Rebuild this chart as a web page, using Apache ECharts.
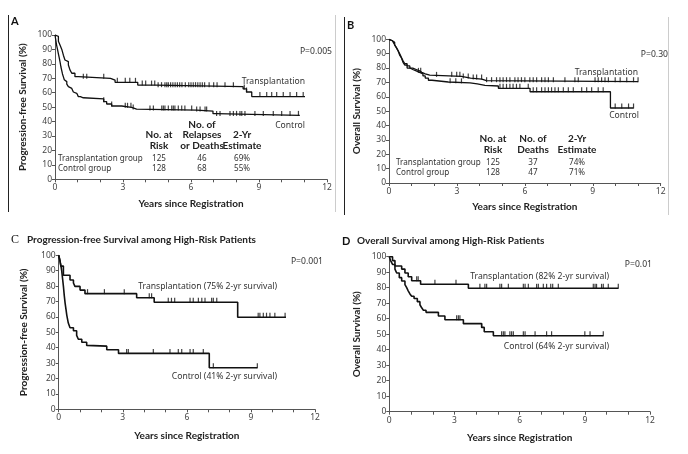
<!DOCTYPE html>
<html><head><meta charset="utf-8">
<script src="https://cdn.jsdelivr.net/npm/echarts@6/dist/echarts.min.js"></script>
<style>html,body{margin:0;padding:0;background:#fff}#c{width:688px;height:454px}</style>
</head><body><div id="c"></div>
<script>
// ---------- DATA ----------
const yearTicks = [0, 3, 6, 9, 12];
// Panel A: progression-free survival (all patients)
const pfsTransplant = [[0,100],[0.08,99],[0.15,95.6],[0.22,93],[0.3,90],[0.37,86],[0.44,82.7],[0.52,81.5],[0.59,79.2],[0.66,75.8],[0.74,73.5],[0.88,71.1],[1.03,70],[2.45,68.8],[2.65,67.2],[3.65,65.3],[4.45,64.2],[8.3,62.6],[8.45,60.5],[8.68,57.3],[11.03,57.3]];
const pfsControl = [[0,100],[0.04,96],[0.07,93],[0.11,90],[0.15,87],[0.19,84],[0.22,81.5],[0.26,78],[0.29,75.8],[0.33,73],[0.37,71],[0.41,69],[0.44,67.7],[0.52,66],[0.59,64.2],[0.67,63],[0.74,62],[0.81,60.5],[0.88,59.6],[0.96,58.5],[1.03,57.3],[1.12,56.5],[1.25,55.7],[2.15,53.8],[2.28,52.2],[2.5,50.8],[2.94,49.9],[3.38,48.7],[3.6,48.0],[6.25,47.3],[6.97,45.5],[7.1,44.3],[10.8,44.3]];
const pfsTransplantCens = [1.25,1.4,2.15,2.75,3.1,3.3,3.55,3.85,4.0,4.26,4.4,4.55,4.7,4.85,4.93,5.0,5.1,5.2,5.3,5.4,5.5,5.6,5.75,5.9,6.0,6.1,6.2,6.3,6.4,6.5,6.6,6.8,7.0,7.15,7.5,7.87,8.35,8.45,9.04,9.34,9.56,9.78,10.07,10.37,10.66,10.95];
const pfsControlCens = [2.15,2.5,3.1,3.2,3.35,3.45,4.19,4.34,4.71,4.78,4.85,5.0,5.15,5.22,5.29,5.44,5.59,5.73,6.03,6.25,6.4,6.62,6.69,7.13,7.28,7.72,7.87,8.01,8.16,8.24,8.38,8.82,9.19,9.63,10.0,10.37,10.74];
// Panel B: overall survival (all patients)
const osTransplant = [[0,100],[0.08,99],[0.15,98],[0.22,97],[0.3,95],[0.37,93],[0.44,91],[0.5,89],[0.56,87],[0.62,85],[0.7,83],[0.8,81.5],[0.92,80],[1.05,79],[1.2,78],[1.35,77],[1.45,76],[1.6,75],[1.8,74.2],[3.2,73],[3.6,72.3],[4.1,71.3],[4.3,70.5],[11.0,70.5]];
const osControl = [[0,100],[0.08,99],[0.15,98],[0.25,96],[0.33,94],[0.4,92],[0.47,89],[0.55,87],[0.62,84],[0.7,82],[0.8,80],[0.92,79],[1.05,78],[1.2,77],[1.35,76],[1.5,74.5],[1.6,73],[1.74,71.5],[1.9,70.3],[2.62,69.7],[3.58,69],[3.9,68],[4.24,67.5],[4.83,65.9],[6.23,63.5],[9.78,52.2],[10.8,52.2]];
const osTransplantCens = [1.4,2.1,2.77,2.99,3.13,3.28,3.5,3.72,3.87,4.09,4.31,4.53,4.75,4.9,5.04,5.19,5.34,5.56,5.7,5.85,6.0,6.22,6.37,6.52,6.74,6.89,7.04,7.26,7.77,8.21,8.36,9.1,9.24,9.39,9.54,9.69,9.99,10.21,10.5,10.8,11.0];
const osControlCens = [1.3,2.7,2.95,3.2,4.9,5.04,5.19,5.34,5.48,5.63,5.78,6.15,6.37,6.52,6.74,6.89,7.04,7.18,7.33,7.48,7.7,7.92,8.14,8.51,8.73,8.95,9.24,9.46,9.99,10.28,10.58,10.8];
// Panel C: PFS among high-risk patients
const hrPfsTransplant = [[0,100],[0.06,96.5],[0.1,93],[0.22,87],[0.53,84],[0.69,82],[0.76,79.8],[1.0,77.4],[1.23,75.1],[3.65,72.4],[4.47,69.5],[8.38,59.8],[10.64,59.8]];
const hrPfsControl = [[0,100],[0.05,97],[0.1,93.5],[0.14,90],[0.18,85],[0.22,80],[0.26,74],[0.3,69],[0.34,65],[0.38,61],[0.45,56],[0.53,53],[0.69,51],[0.84,48],[0.92,45.5],[1.08,43.5],[1.31,41.5],[1.39,41],[2.25,38.7],[2.8,36.3],[7.05,27],[9.3,27]];
const hrPfsTransplantCens = [1.35,2.14,3.07,4.24,4.35,5.13,5.28,5.43,6.15,6.3,6.54,6.7,6.85,7.16,7.24,7.4,9.34,9.42,9.58,9.73,9.89,10.12,10.6];
const hrPfsControlCens = [3.18,3.26,4.43,5.21,5.6,5.76,6.15,6.3,6.77,7.24,9.3];
// Panel D: OS among high-risk patients
const hrOsTransplant = [[0,100],[0.15,97.5],[0.26,94],[0.57,92],[0.72,89.5],[0.87,87.1],[1.03,84.5],[1.44,82.2],[3.64,79.6],[10.54,79.6]];
const hrOsControl = [[0,100],[0.06,97.5],[0.15,95],[0.26,92],[0.34,89.5],[0.46,86.5],[0.57,84.3],[0.72,82],[0.8,80],[0.87,78],[0.95,76],[1.03,74.5],[1.14,73],[1.29,71],[1.41,69],[1.49,67],[1.57,65.5],[1.69,64.1],[2.26,61.7],[2.56,59.3],[3.41,56.8],[4.25,54.4],[4.37,51.6],[4.79,49],[9.85,49]];
const hrOsTransplantCens = [1.26,1.33,2.1,3.07,4.17,4.4,4.48,5.09,5.17,5.48,6.17,6.25,6.4,6.78,6.86,7.09,7.24,7.43,7.52,7.78,9.39,9.47,9.54,9.77,9.85,10.08,10.54];
const hrOsControlCens = [3.1,3.18,3.25,4.25,5.17,5.25,5.32,5.55,5.63,5.71,6.17,6.25,6.71,7.24,7.47,9.0,9.24,9.85];
// Tables
const tableGroups = ['Transplantation group', 'Control group'];
const atRisk = [125, 128];
const pfsEvents = [46, 68];
const pfsEstimate = ['69%', '55%'];
const osEvents = [37, 47];
const osEstimate = ['74%', '71%'];
const pValues = ['P=0.005', 'P=0.30', 'P=0.001', 'P=0.01'];

// ---------- CHART ----------
const FONT = 'Lato';
const BODY = 'Noto Sans';
const BODY_SIZE = 8.6;
const TABLE_SIZE = 8.1;
const chart = echarts.init(document.getElementById('c'), null, {renderer: 'canvas'});

function survAt(curve, t) {
  let s = curve[0][1];
  for (const p of curve) { if (p[0] <= t) s = p[1]; else break; }
  return s;
}
const grids = [
  {left: 55, top: 35, width: 272, height: 144.3},
  {left: 389, top: 39.3, width: 271.7, height: 143.7},
  {left: 58.7, top: 255.3, width: 256.3, height: 154},
  {left: 389.3, top: 256.7, width: 260.7, height: 155}
];
const yNames = ['Progression-free Survival (%)', 'Overall Survival (%)', 'Progression-free Survival (%)', 'Overall Survival (%)'];
const xNameGaps = [19, 19, 21, 21];
const axisCol = '#555';
const xAxes = grids.map((g, i) => ({
  gridIndex: i, type: 'value', min: 0, max: 12, interval: 1,
  name: 'Years since Registration', nameLocation: 'middle', nameGap: xNameGaps[i],
  nameTextStyle: {fontFamily: FONT, fontWeight: 'bold', fontSize: 10, color: '#222'},
  axisLine: {lineStyle: {color: axisCol, width: 1}},
  axisTick: {length: 3, lineStyle: {color: axisCol}},
  axisLabel: {margin: 4, fontFamily: BODY, fontSize: 8.5, color: '#444',
    formatter: v => yearTicks.indexOf(v) >= 0 ? String(v) : ''},
  splitLine: {show: false}
}));
const yAxes = grids.map((g, i) => ({
  gridIndex: i, type: 'value', min: 0, max: 100, interval: 10,
  name: yNames[i], nameLocation: 'middle', nameGap: [27, 27, 30, 28][i], nameRotate: 90,
  nameTextStyle: {fontFamily: FONT, fontWeight: 'bold', fontSize: 10, color: '#222'},
  axisLine: {show: true, lineStyle: {color: axisCol, width: 1}},
  axisTick: {show: true, length: 3, lineStyle: {color: axisCol}},
  axisLabel: {margin: 3, fontFamily: BODY, fontSize: 8.5, color: '#444'},
  splitLine: {show: false}
}));
const curves = [
  [pfsTransplant, pfsControl, pfsTransplantCens, pfsControlCens],
  [osTransplant, osControl, osTransplantCens, osControlCens],
  [hrPfsTransplant, hrPfsControl, hrPfsTransplantCens, hrPfsControlCens],
  [hrOsTransplant, hrOsControl, hrOsTransplantCens, hrOsControlCens]
];
const series = [];
curves.forEach((c, i) => {
  [c[0], c[1]].forEach((curve, k) => {
    series.push({type: 'line', xAxisIndex: i, yAxisIndex: i, step: 'end', data: curve,
      symbol: 'none', silent: true, animation: false,
      lineStyle: {color: '#111', width: i >= 2 ? 1.6 : 1.3}});
    const cens = c[2 + k].map(t => [t, survAt(curve, t)]);
    series.push({type: 'scatter', xAxisIndex: i, yAxisIndex: i, data: cens,
      symbol: 'rect', symbolSize: [1.2, 5], symbolOffset: [0, -2], silent: true, animation: false,
      itemStyle: {color: '#111'}});
  });
});

function txt(x, y, s, opt) {
  return {type: 'text', x: x, y: y, silent: true,
    style: Object.assign({text: s, fontFamily: BODY, fontSize: BODY_SIZE, fill: '#333',
      textAlign: 'left', textVerticalAlign: 'middle'}, opt || {})};
}
const hdr = {fontFamily: FONT, fontWeight: 'bold', fill: '#222', textAlign: 'center', fontSize: 10};
const graphic = [
  // panel frames
  {type: 'line', shape: {x1: 8.5, y1: 15, x2: 8.5, y2: 212}, style: {stroke: '#222', lineWidth: 1}, silent: true},
  {type: 'line', shape: {x1: 335.5, y1: 15, x2: 335.5, y2: 212}, style: {stroke: '#ccc', lineWidth: 1}, silent: true},
  {type: 'line', shape: {x1: 344.5, y1: 17, x2: 344.5, y2: 215}, style: {stroke: '#222', lineWidth: 1}, silent: true},
  {type: 'line', shape: {x1: 668.5, y1: 17, x2: 668.5, y2: 215}, style: {stroke: '#ccc', lineWidth: 1}, silent: true},
  // panel letters
  txt(11, 21, 'A', {fontFamily: FONT, fontWeight: 'bold', fontSize: 11, fill: '#111'}),
  txt(347, 25, 'B', {fontFamily: FONT, fontWeight: 'bold', fontSize: 11, fill: '#111'}),
  txt(11, 240, 'C', {fontFamily: 'Liberation Serif', fontSize: 12, fill: '#111'}),
  txt(342, 241, 'D', {fontFamily: FONT, fontWeight: 'bold', fontSize: 11, fill: '#111'}),
  txt(27, 240, 'Progression-free Survival among High-Risk Patients', {fontFamily: FONT, fontWeight: 'bold', fontSize: 10, fill: '#222'}),
  txt(357, 241, 'Overall Survival among High-Risk Patients', {fontFamily: FONT, fontWeight: 'bold', fontSize: 10, fill: '#222'}),
  // p-values
  txt(332, 52, pValues[0], {textAlign: 'right'}),
  txt(668, 55, pValues[1], {textAlign: 'right'}),
  txt(323, 262, pValues[2], {textAlign: 'right'}),
  txt(652, 265, pValues[3], {textAlign: 'right'}),
  // curve labels
  txt(305, 82, 'Transplantation', {textAlign: 'right'}),
  txt(305, 126, 'Control', {textAlign: 'right'}),
  txt(638, 73, 'Transplantation', {textAlign: 'right'}),
  txt(639, 116, 'Control', {textAlign: 'right'}),
  txt(277, 287, 'Transplantation (75% 2-yr survival)', {textAlign: 'right'}),
  txt(277, 377, 'Control (41% 2-yr survival)', {textAlign: 'right'}),
  txt(609, 277, 'Transplantation (82% 2-yr survival)', {textAlign: 'right'}),
  txt(609, 347, 'Control (64% 2-yr survival)', {textAlign: 'right'}),
  // table A
  txt(202, 125, 'No. of', hdr),
  txt(159, 135, 'No. at', hdr), txt(202, 135, 'Relapses', hdr), txt(242, 135, '2-Yr', hdr),
  txt(159, 146, 'Risk', hdr), txt(202, 146, 'or Deaths', hdr), txt(242, 146, 'Estimate', hdr),
  // table B
  txt(493, 139, 'No. at', hdr), txt(533, 139, 'No. of', hdr), txt(577, 139, '2-Yr', hdr),
  txt(493, 150, 'Risk', hdr), txt(533, 150, 'Deaths', hdr), txt(577, 150, 'Estimate', hdr)
];
const tStyle = {fontSize: TABLE_SIZE};
const tCenter = {fontSize: TABLE_SIZE, textAlign: 'center'};
tableGroups.forEach((g, r) => {
  const yA = 159 + r * 10, yB = 163 + r * 10;
  graphic.push(txt(58, yA, g, tStyle));
  graphic.push(txt(159, yA, String(atRisk[r]), tCenter));
  graphic.push(txt(202, yA, String(pfsEvents[r]), tCenter));
  graphic.push(txt(242, yA, pfsEstimate[r], tCenter));
  graphic.push(txt(396, yB, g, tStyle));
  graphic.push(txt(493, yB, String(atRisk[r]), tCenter));
  graphic.push(txt(533, yB, String(osEvents[r]), tCenter));
  graphic.push(txt(577, yB, osEstimate[r], tCenter));
});

chart.setOption({
  animation: false,
  backgroundColor: '#fff',
  grid: grids.map(g => Object.assign({containLabel: false}, g)),
  xAxis: xAxes, yAxis: yAxes, series: series, graphic: graphic
});
</script></body></html>
